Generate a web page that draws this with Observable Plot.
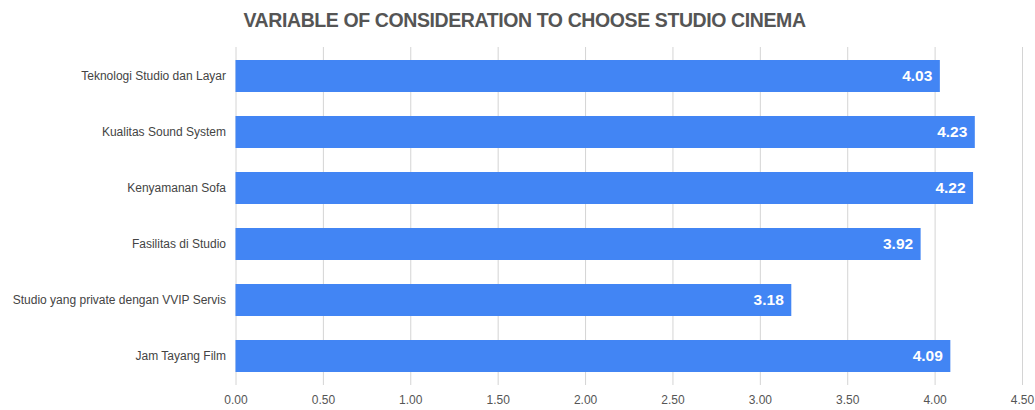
<!DOCTYPE html>
<html>
<head>
<meta charset="utf-8">
<script src="https://cdn.jsdelivr.net/npm/d3@7"></script>
<script src="https://cdn.jsdelivr.net/npm/@observablehq/plot@0.6"></script>
<style>
  body { margin: 0; background: #ffffff; width: 1035px; height: 410px; overflow: hidden; }
  #title { height: 40px; line-height: 40px; text-align: center; font-family: "Liberation Sans", Arial, sans-serif; font-weight: bold; font-size: 19.5px; letter-spacing: -0.4px; color: #555555; padding-left: 14px; box-sizing: border-box; }
  #chart svg { display: block; }
</style>
</head>
<body>
<div id="title">VARIABLE OF CONSIDERATION TO CHOOSE STUDIO CINEMA</div>
<div id="chart"></div>
<script>
const categories = [
  "Teknologi Studio dan Layar",
  "Kualitas Sound System",
  "Kenyamanan Sofa",
  "Fasilitas di Studio",
  "Studio yang private dengan VVIP Servis",
  "Jam Tayang Film"
];
const values = [4.03, 4.23, 4.22, 3.92, 3.18, 4.09];
const xTicks = [0, 0.5, 1, 1.5, 2, 2.5, 3, 3.5, 4, 4.5];

const data = categories.map((c, i) => ({category: c, value: values[i]}));

const chart = Plot.plot({
  width: 1035,
  height: 370,
  marginTop: 7,
  marginBottom: 25,
  marginLeft: 235.5,
  marginRight: 13,
  style: {fontFamily: "Liberation Sans, Arial, sans-serif", fontSize: "12px", color: "#444444", background: "transparent"},
  x: {domain: [0, 4.5], ticks: xTicks, tickFormat: d => d.toFixed(2), label: null, tickSize: 0, tickPadding: 10},
  y: {domain: categories, paddingInner: 0.435, paddingOuter: 0.21, label: null, tickSize: 0, tickPadding: 10},
  marks: [
    Plot.gridX(xTicks, {stroke: "#d4d4d4", strokeOpacity: 1}),
    Plot.barX(data, {x: "value", y: "category", fill: "#4285F4"}),
    Plot.text(data, {x: "value", y: "category", text: d => d.value.toFixed(2), textAnchor: "end", dx: -8, fill: "white", fontWeight: "bold", fontSize: 15.5}),
    Plot.axisX({ticks: xTicks, tickFormat: d => d.toFixed(2), tickSize: 0, tickPadding: 10, fill: "#555555", label: null}),
    Plot.axisY({tickSize: 0, tickPadding: 10, fill: "#444444", label: null})
  ]
});
document.getElementById("chart").appendChild(chart);
</script>
</body>
</html>
